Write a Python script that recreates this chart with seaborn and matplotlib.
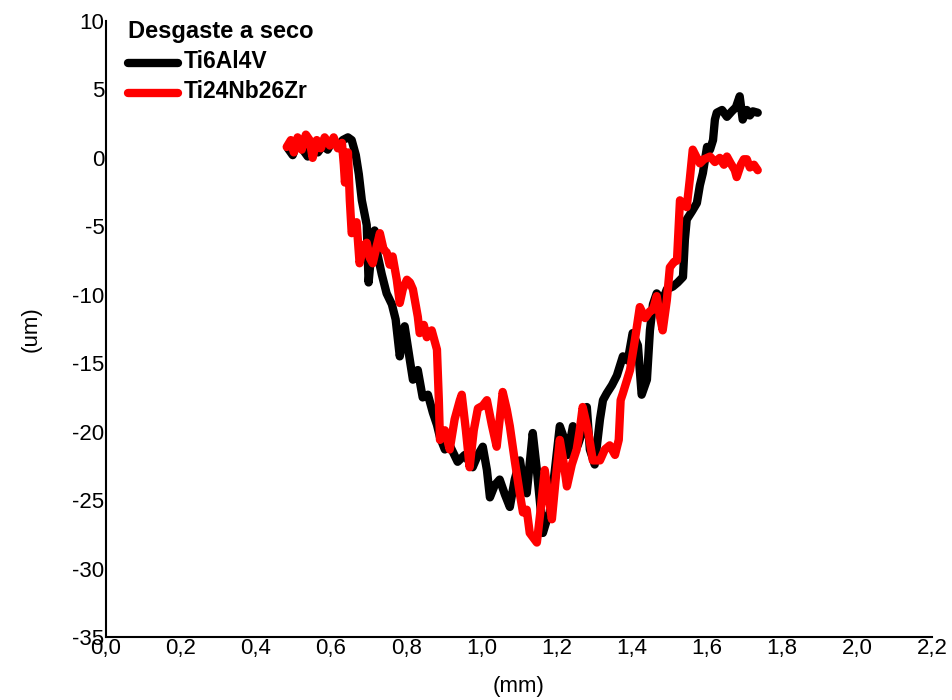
import numpy as np
import pandas as pd
import seaborn as sns
import matplotlib.pyplot as plt

# profile of the wear track
ti64_x = [0.485, 0.498, 0.511, 0.525, 0.538, 0.551, 0.565, 0.578, 0.591, 0.605,
          0.618, 0.631, 0.645, 0.655, 0.666, 0.674, 0.682, 0.690, 0.695, 0.700,
          0.708, 0.716, 0.724, 0.735, 0.748, 0.762, 0.772, 0.783, 0.796, 0.810,
          0.818, 0.831, 0.844, 0.858, 0.871, 0.882, 0.890, 0.903, 0.916, 0.937,
          0.956, 0.977, 0.991, 1.004, 1.015, 1.023, 1.036, 1.049, 1.063, 1.076,
          1.089, 1.103, 1.113, 1.121, 1.137, 1.148, 1.164, 1.174, 1.182, 1.196,
          1.209, 1.222, 1.230, 1.244, 1.257, 1.270, 1.281, 1.289, 1.302, 1.316,
          1.324, 1.334, 1.348, 1.361, 1.377, 1.390, 1.403, 1.417, 1.427, 1.441,
          1.449, 1.457, 1.467, 1.483, 1.494, 1.510, 1.523, 1.537, 1.542, 1.547,
          1.561, 1.574, 1.582, 1.590, 1.601, 1.609, 1.617, 1.622, 1.627, 1.641,
          1.654, 1.667, 1.678, 1.688, 1.696, 1.707, 1.715, 1.723, 1.736]
ti64_y = [0.7, 0.2, 1.2, 0.6, 0.1, 1.1, 0.4, 0.9, 0.6, 1.3,
          0.8, 1.3, 1.5, 1.3, 0.2, -1.2, -3.1, -4.2, -4.9, -9.1,
          -6.7, -5.3, -7.1, -8.5, -9.9, -10.7, -11.8, -14.5, -12.3, -14.8,
          -16.2, -15.5, -17.5, -17.3, -18.6, -19.5, -20.4, -21.3, -21.0, -22.2,
          -21.7, -22.6, -21.7, -21.1, -22.8, -24.8, -23.9, -23.5, -24.6, -25.5,
          -23.5, -22.1, -23.9, -24.5, -20.1, -22.8, -27.4, -26.5, -25.9, -22.8,
          -19.6, -20.6, -21.7, -19.6, -21.0, -19.9, -18.2, -21.3, -22.4, -19.1,
          -17.7, -17.2, -16.6, -15.9, -14.5, -14.8, -12.8, -13.7, -17.3, -16.2,
          -12.6, -10.7, -9.9, -10.4, -9.6, -9.4, -9.1, -8.7, -6.0, -4.5,
          -3.9, -3.3, -2.0, -1.1, 0.8, 0.6, 1.3, 2.8, 3.3, 3.5,
          3.0, 3.4, 3.7, 4.5, 2.8, 3.5, 3.1, 3.4, 3.3]

tinbzr_x = [0.482, 0.493, 0.501, 0.511, 0.522, 0.533, 0.543, 0.551, 0.562, 0.573,
            0.583, 0.597, 0.607, 0.618, 0.629, 0.634, 0.637, 0.645, 0.650, 0.655,
            0.663, 0.668, 0.676, 0.687, 0.695, 0.703, 0.711, 0.722, 0.730, 0.740,
            0.748, 0.756, 0.764, 0.775, 0.783, 0.791, 0.802, 0.810, 0.818, 0.831,
            0.836, 0.847, 0.855, 0.868, 0.882, 0.887, 0.890, 0.903, 0.916, 0.929,
            0.943, 0.948, 0.959, 0.969, 0.980, 0.991, 1.004, 1.015, 1.028, 1.041,
            1.049, 1.057, 1.068, 1.076, 1.089, 1.103, 1.111, 1.121, 1.129, 1.140,
            1.148, 1.158, 1.169, 1.180, 1.188, 1.198, 1.209, 1.220, 1.228, 1.241,
            1.254, 1.262, 1.270, 1.284, 1.297, 1.316, 1.329, 1.342, 1.356, 1.366,
            1.371, 1.377, 1.388, 1.396, 1.409, 1.422, 1.436, 1.449, 1.457, 1.467,
            1.475, 1.483, 1.494, 1.502, 1.513, 1.521, 1.529, 1.539, 1.547, 1.555,
            1.563, 1.574, 1.582, 1.593, 1.609, 1.622, 1.635, 1.646, 1.654, 1.664,
            1.675, 1.680, 1.691, 1.699, 1.707, 1.715, 1.726, 1.736]
tinbzr_y = [0.8, 1.3, 0.4, 1.5, 0.6, 1.7, 1.3, 0.0, 1.3, 0.7,
            1.5, 0.9, 1.5, 0.7, 1.1, -0.5, -1.8, 0.4, -3.1, -5.5,
            -4.9, -4.7, -7.7, -6.4, -6.2, -7.3, -7.7, -6.4, -5.5, -6.7,
            -6.9, -7.8, -7.2, -8.9, -10.6, -9.6, -8.9, -9.1, -9.6, -11.6,
            -12.8, -12.2, -13.1, -12.6, -14.0, -17.7, -20.6, -19.9, -21.3, -19.1,
            -17.7, -17.3, -19.9, -22.6, -19.9, -18.3, -18.1, -17.7, -19.5, -21.1,
            -19.1, -17.1, -18.4, -19.6, -22.1, -24.6, -25.9, -25.7, -27.4, -27.8,
            -28.1, -25.7, -22.8, -25.0, -26.4, -23.5, -20.6, -22.4, -24.0, -22.4,
            -21.3, -19.9, -18.2, -19.9, -22.1, -22.1, -21.3, -21.0, -21.7, -20.6,
            -17.7, -17.2, -16.2, -15.5, -13.3, -10.9, -11.7, -11.2, -11.1, -10.1,
            -11.5, -12.6, -10.4, -8.0, -7.6, -7.5, -3.1, -3.4, -3.6, -1.6,
            0.6, 0.0, -0.4, -0.1, 0.1, -0.3, 0.0, -0.5, 0.1, -0.4,
            -0.9, -1.4, -0.5, -0.1, -0.1, -0.7, -0.5, -0.9]

x_ticks = [0.0, 0.2, 0.4, 0.6, 0.8, 1.0, 1.2, 1.4, 1.6, 1.8, 2.0, 2.2]
x_tick_labels = ['0,0', '0,2', '0,4', '0,6', '0,8', '1,0', '1,2', '1,4', '1,6', '1,8', '2,0', '2,2']
y_ticks = [-35, -30, -25, -20, -15, -10, -5, 0, 5, 10]

df = pd.concat([
    pd.DataFrame({'x': ti64_x, 'y': ti64_y, 'liga': 'Ti6Al4V'}),
    pd.DataFrame({'x': tinbzr_x, 'y': tinbzr_y, 'liga': 'Ti24Nb26Zr'}),
], ignore_index=True)

sns.set_style('white')
plt.rcParams['font.family'] = ['Liberation Sans', 'DejaVu Sans']
plt.rcParams['axes.unicode_minus'] = False
plt.rcParams['text.color'] = 'black'
plt.rcParams['axes.labelcolor'] = 'black'

fig = plt.figure(figsize=(9.52, 7), dpi=100)
ax = fig.add_axes([0.111, 0.09, 0.868, 0.88])

sns.lineplot(data=df, x='x', y='y', hue='liga', estimator=None, sort=False,
             palette={'Ti6Al4V': 'black', 'Ti24Nb26Zr': '#ff0000'},
             linewidth=6, solid_joinstyle='round', solid_capstyle='round', ax=ax)

ax.set_xlim(0, 2.2)
ax.set_ylim(-35, 10)
ax.set_xticks(x_ticks)
ax.set_xticklabels(x_tick_labels)
ax.set_yticks(y_ticks)
ax.tick_params(axis='both', length=0, labelsize=16, pad=1, colors='black')
ax.set_xlabel('(mm)', fontsize=16, labelpad=12)
ax.set_ylabel('(um)', fontsize=16, labelpad=22)

sns.despine(ax=ax)
for side in ['left', 'bottom']:
    ax.spines[side].set_color('black')
    ax.spines[side].set_linewidth(1.5)

leg = ax.legend(title='Desgaste a seco', loc='upper left', frameon=False,
                bbox_to_anchor=(0.015, 1.017), handlelength=3.6, handletextpad=0.45,
                labelspacing=0.5, borderpad=0.2)
leg.get_title().set_fontweight('bold')
leg.get_title().set_fontsize(17)
for t in leg.get_texts():
    t.set_fontweight('bold')
    t.set_fontsize(16.5)
for h in leg.get_lines():
    h.set_linewidth(6)
leg._legend_box.align = 'left'

fig.savefig('out.png', dpi=100)
